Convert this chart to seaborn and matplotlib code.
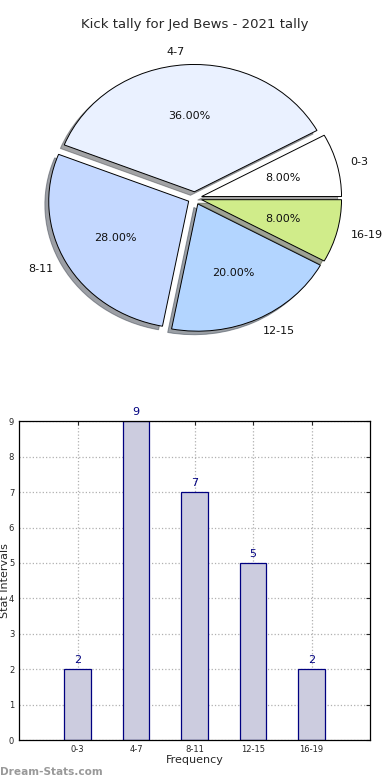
import numpy as np
import pandas as pd
import matplotlib
matplotlib.use("Agg")
import matplotlib.pyplot as plt
import seaborn as sns

# data
categories = ["0-3", "4-7", "8-11", "12-15", "16-19"]
counts = [2, 9, 7, 5, 2]
pie_colors = ["#ffffff", "#eaf1ff", "#c4d8ff", "#b3d5ff", "#d0ec8a"]
y_ticks = list(range(0, 10))

sns.set_style("white")
plt.rcParams['font.family'] = ['DejaVu Sans']

fig = plt.figure(figsize=(3.9, 7.8), dpi=100)

# --- pie ---
ax_pie = fig.add_axes([0.051, 0.542, 0.897, 0.408])
wedges, texts, autotexts = ax_pie.pie(
    counts, labels=categories, colors=pie_colors, explode=[0.05] * len(counts),
    autopct="%1.2f%%", shadow=True, startangle=0, counterclock=True,
    wedgeprops=dict(edgecolor="black", linewidth=0.7),
    textprops=dict(fontsize=8, color="#111111"))
ax_pie.set_aspect("auto")
ax_pie.set_title("Kick tally for Jed Bews - 2021 tally", fontsize=9.5, pad=8)

# --- bars ---
ax_bar = fig.add_axes([0.049, 0.051, 0.9, 0.409])
df = pd.DataFrame({"interval": categories, "count": counts})
sns.barplot(data=df, x="interval", y="count", ax=ax_bar, width=0.45,
            color="#ccccdf", edgecolor="#000080", linewidth=0.9, saturation=1)
for i, v in enumerate(counts):
    ax_bar.text(i, v + 0.12, str(v), ha="center", va="bottom", fontsize=8, color="#000080")
ax_bar.set_xlim(-1, 5)
ax_bar.set_ylim(0, 9)
ax_bar.set_yticks(y_ticks)
ax_bar.grid(True, linestyle=":", color="#b0b0b0", linewidth=0.9)
ax_bar.set_axisbelow(True)
ax_bar.tick_params(labelsize=6, direction="in", top=True, right=True, length=3)
for s in ax_bar.spines.values():
    s.set_color("black")
    s.set_linewidth(0.9)
ax_bar.set_xlabel("Frequency", fontsize=8, labelpad=1)
ax_bar.set_ylabel("Stat Intervals", fontsize=8)
ax_bar.yaxis.set_label_coords(-0.025, 0.5)

fig.text(0.0, 0.006, "Dream-Stats.com", fontsize=7.6, color="#999999", fontweight="bold")

fig.savefig("out.png", dpi=100)
